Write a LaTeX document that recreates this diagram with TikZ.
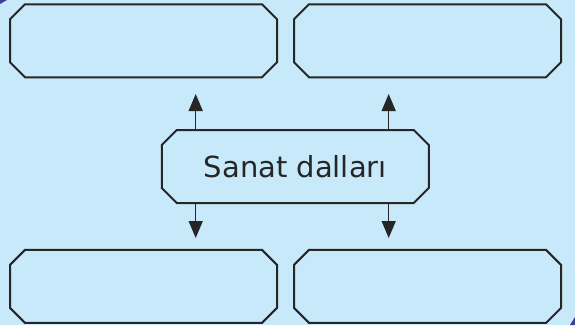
\documentclass[tikz,border=0pt]{standalone}
\usepackage{fontspec}
\setmainfont{DejaVu Sans}
\usepackage{tikz}
\usetikzlibrary{arrows.meta}
\definecolor{skyback}{HTML}{C8E9F9}
\definecolor{inkline}{HTML}{262626}
\definecolor{cornerblue}{HTML}{3C3C9C}

\begin{document}
\begin{tikzpicture}[x=1pt,y=-1pt]
\tikzset{branchbox/.style={rectangle,minimum width=267pt,minimum height=73pt,inner sep=0pt,outer sep=0pt}}
\tikzset{frame/.style={draw=inkline,line width=2pt,line join=miter}}
\tikzset{branch/.style={line width=1.5pt,draw=inkline,-{Triangle[length=17pt,width=14pt]}}}

\fill[skyback] (0,0) rectangle (575,325);
\useasboundingbox (0,0) rectangle (575,325);
\fill[cornerblue] (0,0) -- (7,0) -- (0,4) -- cycle;
\fill[cornerblue] (575,317) -- (575,325) -- (570,325) -- cycle;

\node[branchbox] (topleft) at (143.5,40.8) {};
\node[branchbox] (topright) at (427.5,40.8) {};
\node[branchbox] (bottomleft) at (143.5,286.4) {};
\node[branchbox] (bottomright) at (427.5,286.4) {};
\node[branchbox,font=\fontsize{29}{34}\selectfont,text=inkline] (sanat) at (295.3,166.5) {Sanat dallar\i};

% chamfered frames
\foreach \b in {topleft,topright,bottomleft,bottomright,sanat}
  \draw[frame] ([xshift=15pt]\b.north west) -- ([xshift=-15pt]\b.north east) -- ([yshift=-15pt]\b.north east) -- ([yshift=15pt]\b.south east) -- ([xshift=-15pt]\b.south east) -- ([xshift=15pt]\b.south west) -- ([yshift=15pt]\b.south west) -- ([yshift=-15pt]\b.north west) -- cycle;

\coordinate (upleft) at (195.7,94);
\coordinate (upright) at (388.7,94);
\coordinate (downleft) at (195.7,238);
\coordinate (downright) at (388.7,238);

\draw[branch] (upleft |- sanat.north) -- (upleft);
\draw[branch] (upright |- sanat.north) -- (upright);
\draw[branch] (downleft |- sanat.south) -- (downleft);
\draw[branch] (downright |- sanat.south) -- (downright);

\end{tikzpicture}
\end{document}
